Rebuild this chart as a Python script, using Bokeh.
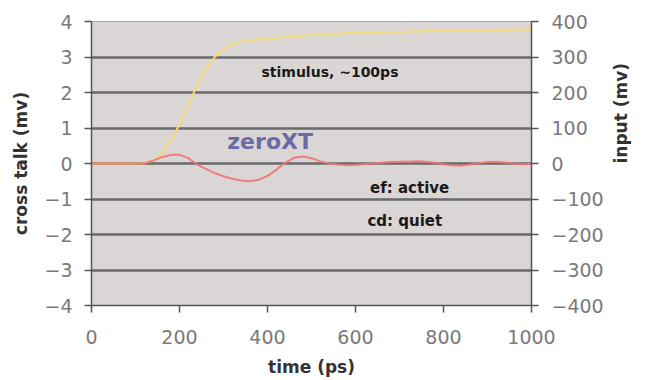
import math
from bokeh.plotting import figure
from bokeh.models import Range1d, LinearAxis, FixedTicker, Label
from bokeh.embed import file_html
from bokeh.resources import INLINE

# cross talk (mV) vs time (ps)
xt_time_ps = [0, 50, 100, 120, 140, 160, 180, 200, 220, 240, 260, 280, 300, 320, 340,
              360, 380, 400, 420, 440, 460, 480, 500, 520, 540, 560, 580, 600, 620, 640,
              660, 680, 700, 720, 740, 760, 780, 800, 820, 840, 860, 880, 900, 920, 940,
              960, 980, 1000]
crosstalk_mv = [0, 0, 0, 0.01, 0.08, 0.18, 0.24, 0.25, 0.15, -0.03, -0.15, -0.27, -0.36,
                -0.43, -0.48, -0.5, -0.46, -0.35, -0.18, 0.02, 0.16, 0.2, 0.15, 0.06, 0.0,
                -0.03, -0.05, -0.04, -0.02, 0.0, 0.02, 0.04, 0.05, 0.05, 0.06, 0.05, 0.02,
                -0.02, -0.05, -0.06, -0.03, 0.01, 0.04, 0.05, 0.03, 0.0, -0.02, -0.01]

# stimulus input (mV) vs time (ps)
in_time_ps = [0, 100, 120, 140, 160, 180, 200, 220, 240, 260, 280, 300, 320, 340, 360,
              400, 450, 500, 600, 700, 800, 900, 1000]
input_mv = [0, 0, 1, 8, 28, 65, 110, 165, 220, 265, 300, 322, 336, 344, 348,
            352, 357, 362, 368, 371, 374, 376, 378]

left_ticks = [-4, -3, -2, -1, 0, 1, 2, 3, 4]
right_ticks = [-400, -300, -200, -100, 0, 100, 200, 300, 400]
x_ticks = [0, 200, 400, 600, 800, 1000]

TICK_FONT = "DejaVu Sans"
TITLE_FONT = "DejaVu Sans"

p = figure(width=643, height=380, x_range=Range1d(0, 1000), y_range=Range1d(-4, 4),
           output_backend="svg", toolbar_location=None,
           min_border_left=91, min_border_right=111, min_border_top=21, min_border_bottom=75)
p.extra_y_ranges = {"input": Range1d(-400, 400)}

p.background_fill_color = "#dbd6d6"
p.border_fill_color = "white"
p.outline_line_color = "#a8a4a4"
p.outline_line_width = 1

p.xgrid.visible = False
p.ygrid.ticker = FixedTicker(ticks=[-4, -3, -2, -1, 0, 1, 2, 3])
p.ygrid.grid_line_color = "#6a6a6a"
p.ygrid.grid_line_width = 2.5

def style_axis(ax, standoff, title_standoff):
    ax.axis_line_color = "#555555"
    ax.axis_line_width = 1.5
    ax.major_tick_line_color = "#555555"
    ax.major_tick_line_width = 1.5
    ax.major_tick_in = 0
    ax.major_tick_out = 7
    ax.minor_tick_line_color = None
    ax.major_label_text_font = TICK_FONT
    ax.major_label_text_font_size = "19px"
    ax.major_label_text_color = "#7a7a7a"
    ax.major_label_standoff = standoff
    ax.axis_label_text_font = TITLE_FONT
    ax.axis_label_text_font_style = "bold"
    ax.axis_label_text_font_size = "17px"
    ax.axis_label_text_color = "#333333"
    ax.axis_label_standoff = title_standoff

p.xaxis.ticker = FixedTicker(ticks=x_ticks)
p.xaxis.axis_label = "time (ps)"
style_axis(p.xaxis[0], 17, 10)

p.yaxis.ticker = FixedTicker(ticks=left_ticks)
p.yaxis.axis_label = "cross talk (mv)"
style_axis(p.yaxis[0], 12, 10)

right = LinearAxis(y_range_name="input", ticker=FixedTicker(ticks=right_ticks),
                   axis_label="input (mv)")
style_axis(right, 13, 14)
try:
    right.axis_label_orientation = math.pi / 2
except Exception:
    pass
p.add_layout(right, "right")

p.line(in_time_ps, input_mv, y_range_name="input", line_color="#f2da78", line_width=2)
p.line(xt_time_ps, crosstalk_mv, line_color="#f07474", line_width=2, line_alpha=0.9)

labels = [
    ("stimulus, ~100ps", 542, 2.59, "14px", "#1a1a1a"),
    ("zeroXT", 406, 0.62, "22px", "#6a6aa6"),
    ("ef: active", 723, -0.68, "15px", "#1a1a1a"),
    ("cd: quiet", 712, -1.63, "15px", "#1a1a1a"),
]
for txt, lx, ly, fs, col in labels:
    p.add_layout(Label(x=lx, y=ly, text=txt, text_font=TITLE_FONT, text_font_style="bold",
                       text_font_size=fs, text_color=col, text_align="center",
                       text_baseline="middle"))

open("out.html", "w").write(file_html(p, INLINE))
